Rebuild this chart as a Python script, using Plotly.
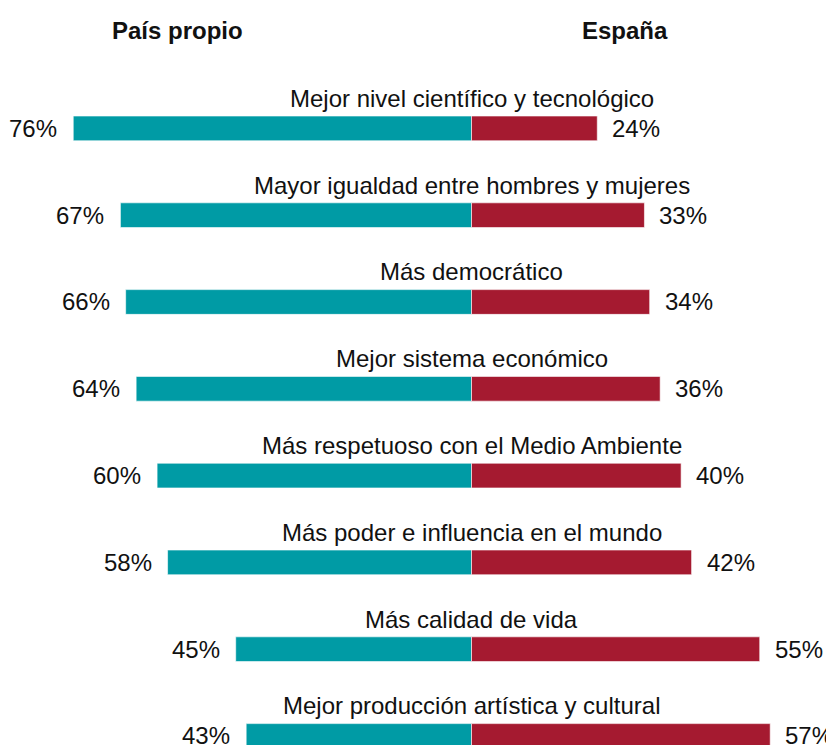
import plotly.graph_objects as go

categorias = [
    "Mejor nivel científico y tecnológico",
    "Mayor igualdad entre hombres y mujeres",
    "Más democrático",
    "Mejor sistema económico",
    "Más respetuoso con el Medio Ambiente",
    "Más poder e influencia en el mundo",
    "Más calidad de vida",
    "Mejor producción artística y cultural",
]
pais_propio = [76, 67, 66, 64, 60, 58, 45, 43]
espana = [24, 33, 34, 36, 40, 42, 55, 57]

TEAL = "#009BA5"
RED = "#A51A30"
FONT = "Liberation Sans, Arial, sans-serif"
TXT = "#111111"

pos = list(range(len(categorias)))

fig = go.Figure()
fig.add_trace(go.Bar(
    y=pos, x=[-v for v in pais_propio], orientation="h",
    marker=dict(color=TEAL, line=dict(color="rgba(255,255,255,0.6)", width=1)),
    width=0.285, hoverinfo="skip", showlegend=False,
))
fig.add_trace(go.Bar(
    y=pos, x=espana, orientation="h",
    marker=dict(color=RED, line=dict(color="rgba(255,255,255,0.6)", width=1)),
    width=0.285, hoverinfo="skip", showlegend=False,
))

ann = []
for i, cat in enumerate(categorias):
    ann.append(dict(x=0, y=i, text=cat, showarrow=False, xanchor="center",
                    yanchor="middle", yshift=30, font=dict(size=24, color=TXT)))
    ann.append(dict(x=-pais_propio[i], y=i, text=f"{pais_propio[i]}%", showarrow=False,
                    xanchor="right", yanchor="middle", xshift=-14,
                    font=dict(size=24, color=TXT)))
    ann.append(dict(x=espana[i], y=i, text=f"{espana[i]}%", showarrow=False,
                    xanchor="left", yanchor="middle", xshift=13,
                    font=dict(size=24, color=TXT)))

ann.append(dict(x=-56.1, y=-1.128, text="<b>País propio</b>", showarrow=False,
                xanchor="center", yanchor="middle", font=dict(size=24, color=TXT)))
ann.append(dict(x=29.3, y=-1.128, text="<b>España</b>", showarrow=False,
                xanchor="center", yanchor="middle", font=dict(size=24, color=TXT)))

fig.update_layout(
    width=834, height=745,
    margin=dict(l=0, r=0, t=0, b=0),
    barmode="relative",
    paper_bgcolor="white", plot_bgcolor="white",
    font=dict(family=FONT),
    annotations=ann,
    xaxis=dict(range=[-88.45, 70.7], visible=False, fixedrange=True),
    yaxis=dict(range=[7.196, -1.387], visible=False, fixedrange=True),
)

fig.write_html("out.html")
